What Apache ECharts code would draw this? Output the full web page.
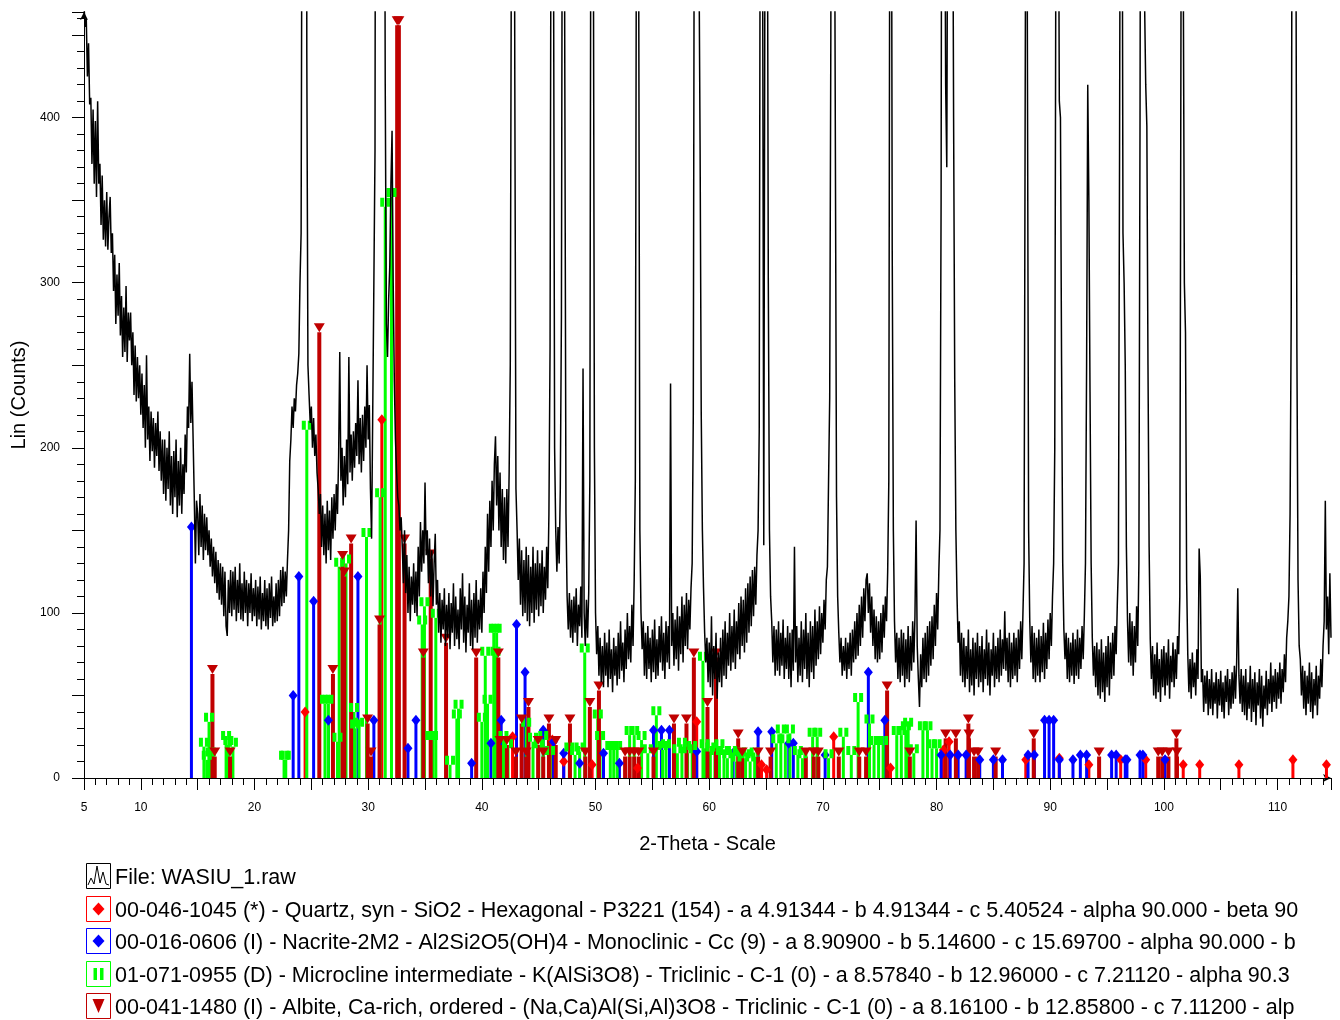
<!DOCTYPE html>
<html>
<head>
<meta charset="utf-8">
<title>WASIU_1</title>
<script src="https://cdn.jsdelivr.net/npm/echarts@6/dist/echarts.min.js"></script>
<style>
    html, body { margin: 0; padding: 0; background: #fff; }
    #chart { width: 1340px; height: 1020px; }
</style>
</head>
<body>
<div id="chart"></div>
<script>
(function () {
    // scan: counts every 0.1 deg from 5.0
    var scanStart = 5;
    var scanStep = 0.1;
    var scanCounts = [
        468, 455, 460, 425, 445, 408, 412, 372, 405, 360,
        398, 352, 410, 360, 372, 335, 365, 326, 350, 322,
        355, 320, 340, 352, 318, 330, 295, 317, 275, 305,
        280, 312, 268, 292, 255, 285, 258, 298, 252, 282,
        265, 282, 250, 270, 232, 262, 228, 255, 230, 250,
        220, 245, 212, 238, 200, 256, 205, 225, 192, 222,
        198, 218, 188, 215, 195, 222, 186, 210, 180, 205,
        172, 205, 168, 200, 175, 210, 165, 195, 160, 198,
        170, 205, 158, 192, 165, 200, 160, 190, 172, 208,
        185, 225, 212, 257, 215, 240, 205, 170, 130, 168,
        160, 135, 172, 140, 165, 132, 160, 138, 158, 135,
        150, 128, 145, 122, 140, 118, 137, 112, 132, 108,
        130, 105, 128, 98, 125, 92, 86, 120, 100, 126,
        98, 125, 102, 128, 95, 120, 100, 130, 96, 118,
        95, 125, 100, 120, 92, 118, 100, 124, 95, 115,
        98, 120, 92, 116, 96, 122, 90, 112, 95, 120,
        92, 115, 90, 118, 97, 122, 92, 110, 94, 118,
        95, 120, 98, 126, 104, 128, 106, 125, 110, 132,
        150, 192, 205, 225, 212, 230, 222, 238, 245, 257,
        300, 330, 620, 2500, 3000, 1800, 440, 250, 232, 215,
        225, 200, 218, 195, 208, 185, 175, 160, 172, 140,
        165, 135, 160, 130, 168, 138, 162, 132, 170, 145,
        172, 150, 178, 160, 195, 258, 180, 200, 165, 195,
        170, 205, 178, 255, 185, 208, 180, 210, 188, 215,
        195, 241, 190, 218, 185, 220, 192, 225, 200, 250,
        205, 226, 175, 145, 222, 300, 380, 900, 3000, 8000,
        10000, 8000, 4000, 1500, 700, 420, 275, 255, 290, 310,
        360, 392, 300, 240, 205, 185, 170, 165, 150, 158,
        140, 118, 150, 112, 135, 100, 128, 95, 122, 105,
        130, 100, 125, 98, 140, 110, 155, 125, 150, 130,
        179, 135, 150, 118, 145, 110, 138, 104, 130, 148,
        105, 120, 88, 112, 82, 108, 90, 115, 80, 105,
        85, 112, 78, 106, 88, 118, 80, 110, 84, 102,
        78, 115, 90, 124, 82, 110, 76, 105, 88, 118,
        80, 108, 78, 112, 85, 120, 82, 108, 90, 115,
        88, 125, 100, 140, 112, 160, 125, 168, 140, 180,
        150, 190, 207, 165, 195, 150, 185, 140, 175, 132,
        170, 130, 175, 140, 185, 250, 520, 900, 750, 420,
        175, 150, 120, 145, 105, 138, 98, 132, 100, 140,
        95, 135, 92, 128, 100, 140, 94, 130, 102, 138,
        98, 130, 104, 138, 100, 128, 108, 140, 115, 160,
        260, 600, 800, 520, 200, 150, 125, 152, 130, 175,
        280, 650, 700, 420, 160, 110, 90, 112, 85, 108,
        82, 110, 88, 115, 80, 105, 92, 116, 85, 248,
        100, 80, 108, 85, 112, 180, 600, 900, 550, 200,
        100, 75, 92, 62, 85, 58, 80, 55, 88, 62,
        82, 55, 90, 60, 78, 52, 85, 62, 80, 56,
        88, 60, 95, 65, 82, 58, 90, 66, 100, 72,
        92, 70, 105, 80, 120, 180, 550, 750, 480, 150,
        100, 78, 95, 62, 88, 60, 92, 66, 85, 58,
        90, 64, 96, 60, 84, 62, 92, 70, 98, 65,
        88, 60, 95, 70, 92, 66, 239, 80, 100, 68,
        96, 72, 104, 65, 98, 75, 110, 70, 105, 80,
        112, 78, 108, 90, 115, 130, 220, 600, 1500, 1200,
        700, 500, 380, 220, 150, 115, 88, 70, 85, 58,
        82, 55, 98, 50, 80, 60, 88, 48, 76, 58,
        85, 55, 90, 62, 95, 60, 88, 68, 100, 65,
        92, 70, 102, 66, 95, 75, 106, 72, 110, 80,
        108, 76, 115, 82, 118, 88, 122, 92, 126, 98,
        128, 105, 135, 150, 210, 600, 900, 500, 141, 500,
        900, 600, 300, 150, 110, 95, 70, 92, 62, 90,
        65, 95, 62, 88, 68, 96, 60, 85, 66, 92,
        60, 88, 55, 90, 65, 140, 70, 92, 58, 85,
        62, 95, 58, 90, 66, 100, 60, 88, 55, 95,
        64, 92, 60, 102, 68, 95, 72, 104, 75, 100,
        82, 108, 90, 120, 128, 180, 230, 450, 900, 800,
        600, 380, 170, 110, 88, 70, 85, 62, 80, 65,
        85, 60, 82, 66, 88, 62, 90, 70, 95, 72,
        100, 74, 105, 80, 110, 85, 115, 95, 120, 124,
        100, 118, 88, 110, 80, 102, 72, 98, 70, 95,
        72, 100, 76, 105, 85, 110, 95, 125, 180, 600,
        700, 320, 150, 95, 70, 88, 60, 85, 58, 90,
        62, 88, 55, 84, 60, 92, 58, 86, 65, 95,
        70, 98, 156, 80, 60, 43, 75, 55, 85, 60,
        88, 58, 92, 62, 95, 68, 98, 72, 105, 80,
        112, 90, 125, 150, 350, 800, 900, 600, 420, 370,
        600, 900, 900, 800, 600, 400, 240, 150, 110, 82,
        95, 62, 88, 58, 85, 55, 80, 60, 90, 52,
        78, 56, 85, 50, 82, 60, 88, 55, 80, 58,
        86, 52, 78, 60, 90, 56, 82, 50, 78, 62,
        88, 55, 80, 60, 85, 58, 90, 62, 84, 66,
        101, 65, 85, 58, 88, 55, 82, 60, 88, 62,
        85, 58, 90, 66, 95, 72, 100, 130, 420, 700,
        420, 150, 95, 70, 92, 60, 88, 58, 85, 62,
        90, 58, 86, 64, 94, 60, 88, 66, 96, 72,
        100, 80, 110, 130, 200, 520, 800, 600, 410, 400,
        250, 130, 90, 72, 88, 60, 85, 58, 82, 62,
        88, 57, 84, 62, 90, 60, 85, 66, 92, 72,
        98, 130, 250, 420, 350, 234, 130, 85, 62, 80,
        55, 82, 50, 78, 48, 84, 52, 76, 46, 80,
        55, 86, 50, 82, 60, 88, 62, 92, 75, 105,
        130, 380, 700, 650, 330, 300, 250, 140, 95, 70,
        100, 68, 95, 62, 92, 70, 104, 80, 130, 400,
        800, 900, 600, 470, 420, 395, 250, 140, 84, 60,
        80, 50, 75, 48, 82, 52, 72, 46, 78, 55,
        80, 50, 76, 56, 84, 48, 74, 58, 82, 55,
        78, 60, 86, 75, 110, 450, 800, 500, 300, 270,
        120, 75, 52, 72, 48, 76, 55, 70, 50, 78,
        60, 139, 122, 58, 66, 40, 62, 45, 65, 38,
        60, 42, 66, 38, 58, 45, 64, 36, 60, 44,
        65, 40, 58, 36, 62, 46, 66, 38, 60, 42,
        64, 45, 68, 48, 70, 115, 62, 45, 66, 40,
        62, 38, 66, 35, 58, 42, 68, 34, 60, 40,
        64, 32, 58, 44, 66, 36, 62, 31, 56, 42,
        65, 38, 60, 45, 70, 40, 62, 46, 66, 42,
        64, 48, 70, 45, 66, 52, 75, 58, 85, 95,
        110, 160, 280, 650, 900, 700, 560, 260, 120, 80,
        72, 50, 68, 42, 65, 38, 62, 45, 70, 40,
        64, 36, 60, 44, 68, 38, 62, 48, 72, 55,
        80, 95, 168, 90, 110, 75, 124, 85
    ];

    // reference patterns: [2-theta, counts]
    var quartzSticks = [
        [24.45, 40], [31.2, 217], [42.7, 25], [46.2, 23], [47.2, 10], [49.7, 8], [53.7, 6],
        [58.9, 34], [64.6, 8], [65.05, 5], [70.95, 25], [75.95, 6], [80.6, 17], [81.1, 22],
        [87.85, 11], [90.8, 12], [93.4, 8], [96.2, 11], [98.4, 11], [101.7, 8], [103.15, 8],
        [106.6, 8], [111.35, 11], [114.3, 8]
    ];
    var nacriteSticks = [
        [14.45, 152], [23.4, 50], [23.9, 122], [25.2, 107], [26.5, 35], [29.1, 122], [30.5, 35],
        [33.5, 18], [34.2, 35], [39.1, 9], [40.8, 21], [41.7, 35], [43.05, 93], [43.8, 64],
        [45.4, 29], [46.3, 22], [47.2, 15], [48.6, 9], [50.7, 15], [52.1, 9], [55.1, 29],
        [55.8, 29], [56.5, 29], [58.9, 16], [62.1, 15], [64.3, 28], [65.5, 28], [67.0, 21],
        [67.4, 21], [70.2, 14], [74.0, 64], [75.45, 35], [80.4, 14], [81.2, 14], [81.9, 14],
        [82.6, 14], [83.8, 11], [85.0, 11], [85.8, 11], [88.05, 14], [88.6, 14], [89.5, 35],
        [89.9, 35], [90.3, 35], [90.8, 11], [92.0, 11], [92.65, 14], [93.2, 14], [95.4, 14],
        [95.8, 14], [96.6, 11], [96.75, 11], [97.9, 14], [98.15, 14], [100.1, 11]
    ];
    var microclineSticks = [
        [15.55, 19], [15.8, 11], [16.0, 34], [16.15, 13], [17.5, 23], [17.7, 20], [18.1, 19],
        [22.6, 11], [22.75, 11], [24.6, 211], [26.2, 45], [26.5, 45], [27.3, 22], [27.45, 128],
        [28.05, 130], [28.75, 40], [28.85, 30], [29.2, 31], [29.85, 146], [31.05, 170],
        [31.5, 346], [32.05, 352], [34.75, 93], [34.95, 104], [35.5, 23], [35.7, 23],
        [35.95, 97], [37.2, 8], [37.8, 36], [37.95, 42], [40.0, 34], [40.3, 74], [40.5, 45],
        [41.05, 88], [41.2, 74], [41.3, 88], [41.9, 23], [42.3, 18], [43.9, 31], [44.5, 22],
        [45.0, 18], [45.4, 23], [46.0, 14], [47.7, 16], [48.2, 14], [48.6, 16], [49.05, 76],
        [50.2, 36], [50.4, 23], [51.3, 17], [51.6, 17], [51.9, 17], [53.0, 26], [53.4, 26],
        [54.05, 23], [54.6, 15], [55.35, 38], [55.9, 17], [56.2, 18], [57.2, 15], [57.6, 19],
        [58.1, 15], [58.5, 17], [59.45, 71], [59.6, 18], [60.1, 16], [60.5, 14], [60.9, 18],
        [61.3, 14], [61.6, 12], [62.0, 14], [62.4, 10], [62.8, 13], [63.2, 12], [63.6, 10],
        [64.0, 13], [65.9, 21], [66.3, 27], [66.7, 21], [67.1, 27], [67.8, 14], [68.2, 12],
        [69.1, 25], [69.5, 25], [70.5, 12], [71.8, 25], [72.5, 14], [73.1, 46], [74.1, 33],
        [74.5, 20], [74.9, 20], [75.3, 20], [76.5, 26], [76.9, 26], [77.3, 29], [77.5, 31],
        [78.0, 15], [78.8, 29], [79.2, 29], [79.6, 18], [80.0, 18]
    ];
    var albiteSticks = [
        [16.3, 63], [16.5, 13], [17.85, 13], [25.7, 270], [26.9, 63], [27.75, 132], [27.9, 122],
        [28.5, 142], [29.95, 33], [30.25, 13], [31.0, 93], [32.55, 456], [32.7, 456],
        [33.2, 142], [34.85, 73], [35.5, 133], [36.85, 82], [39.5, 73], [41.45, 73], [41.6, 20],
        [42.2, 20], [43.0, 13], [43.5, 33], [43.9, 13], [44.1, 43], [44.95, 20], [45.4, 13],
        [45.9, 33], [46.5, 20], [47.75, 33], [49.1, 13], [49.5, 43], [50.3, 53], [52.6, 13],
        [53.0, 13], [53.4, 13], [53.8, 13], [55.1, 13], [56.9, 33], [58.0, 33], [58.65, 73],
        [59.85, 43], [60.6, 73], [62.55, 24], [62.9, 13], [64.3, 13], [65.4, 13], [68.5, 13],
        [69.2, 13], [69.6, 13], [71.4, 13], [73.2, 13], [73.8, 13], [75.65, 53], [77.65, 13],
        [80.8, 24], [81.7, 24], [82.8, 33], [82.85, 24], [83.3, 13], [83.65, 13], [85.2, 13],
        [88.55, 24], [94.3, 13], [99.5, 13], [99.85, 13], [100.4, 13], [101.1, 24], [101.15, 13]
    ];

    var xTickLabels = [5, 10, 20, 30, 40, 50, 60, 70, 80, 90, 100, 110];
    var yTickLabels = [0, 100, 200, 300, 400];

    var legendTexts = [
        'File: WASIU_1.raw',
        '00-046-1045 (*) - Quartz, syn - SiO2 - Hexagonal - P3221 (154) - a 4.91344 - b 4.91344 - c 5.40524 - alpha 90.000 - beta 90',
        '00-016-0606 (I) - Nacrite-2M2 - Al2Si2O5(OH)4 - Monoclinic - Cc (9) - a 8.90900 - b 5.14600 - c 15.69700 - alpha 90.000 - b',
        '01-071-0955 (D) - Microcline intermediate - K(AlSi3O8) - Triclinic - C-1 (0) - a 8.57840 - b 12.96000 - c 7.21120 - alpha 90.3',
        '00-041-1480 (I) - Albite, Ca-rich, ordered - (Na,Ca)Al(Si,Al)3O8 - Triclinic - C-1 (0) - a 8.16100 - b 12.85800 - c 7.11200 - alp'
    ];

    var RED = '#ff0000', BLUE = '#0000ff', GREEN = '#00ff00', DARKRED = '#c00000';
    var FONT = '"Liberation Sans", Arial, sans-serif';

    var scanData = scanCounts.map(function (c, i) {
        return [+(scanStart + i * scanStep).toFixed(1), c];
    });

    var stickSeries = function (data, color, width) {
        return {
            type: 'custom',
            silent: true,
            data: data,
            renderItem: function (params, api) {
                var p0 = api.coord([api.value(0), 0]);
                var p1 = api.coord([api.value(0), api.value(1)]);
                return {
                    type: 'rect',
                    shape: {x: p0[0] - width / 2, y: p1[1], width: width, height: p0[1] - p1[1]},
                    style: {fill: color}
                };
            }
        };
    };

    var markerSeries = function (data, color, symbol, size, offset) {
        return {
            type: 'scatter',
            silent: true,
            data: data,
            symbol: symbol,
            symbolSize: size,
            symbolOffset: offset,
            itemStyle: {color: color, opacity: 1}
        };
    };

    var diamondPath = 'path://M5,0L10,6L5,12L0,6Z';
    var barsPath = 'path://M0,0H4V9H0Z M6,0H10V9H6Z';
    var trianglePath = 'path://M0,0L10,0L5,9Z';

    // legend drawn as graphic rows
    var legendY0 = 863, legendStep = 32.5;
    var boxColors = ['#000000', RED, BLUE, GREEN, DARKRED];
    var graphics = [];
    legendTexts.forEach(function (t, i) {
        var y = Math.round(legendY0 + i * legendStep);
        graphics.push({
            type: 'rect',
            shape: {x: 86.5, y: y + 0.5, width: 24, height: 25},
            style: {fill: '#fff', stroke: boxColors[i], lineWidth: 1}
        });
        var cx = 98.5, cy = y + 13;
        if (i === 0) {
            graphics.push({
                type: 'polyline',
                shape: {points: [[88, cy + 9], [91, cy + 2], [94, cy + 8], [97, cy - 10], [100, cy + 7], [103, cy - 4], [106, cy + 8], [109, cy + 9]]},
                style: {stroke: '#000', lineWidth: 1, fill: null}
            });
        } else if (i === 1 || i === 2) {
            graphics.push({
                type: 'polygon',
                shape: {points: [[cx, cy - 6.5], [cx + 6, cy], [cx, cy + 6.5], [cx - 6, cy]]},
                style: {fill: boxColors[i]}
            });
        } else if (i === 3) {
            graphics.push({type: 'rect', shape: {x: cx - 5, y: cy - 6, width: 3.5, height: 12}, style: {fill: GREEN}});
            graphics.push({type: 'rect', shape: {x: cx + 1.5, y: cy - 6, width: 3.5, height: 12}, style: {fill: GREEN}});
        } else {
            graphics.push({
                type: 'polygon',
                shape: {points: [[cx - 6, cy - 7], [cx + 6, cy - 7], [cx, cy + 7]]},
                style: {fill: DARKRED}
            });
        }
        graphics.push({
            type: 'text', left: 115, top: y + 4,
            style: {text: t, font: '21.5px ' + FONT, fill: '#000'}
        });
    });

    var chart = echarts.init(document.getElementById('chart'), null, {renderer: 'canvas'});
    chart.setOption({
        animation: false,
        backgroundColor: '#fff',
        grid: {left: 84, right: 9, top: 12, bottom: 242},
        xAxis: {
            type: 'value',
            min: 5,
            max: 114.7,
            interval: 5,
            name: '2-Theta - Scale',
            nameLocation: 'middle',
            nameGap: 56,
            nameTextStyle: {fontFamily: FONT, fontSize: 20, color: '#000'},
            axisLine: {show: true, lineStyle: {color: '#000', width: 1}, symbol: ['none', 'arrow'], symbolSize: [6, 8]},
            axisTick: {show: true, length: 12, lineStyle: {color: '#000'}},
            minorTick: {show: true, splitNumber: 5, length: 7, lineStyle: {color: '#000'}},
            splitLine: {show: false},
            axisLabel: {
                margin: 24,
                fontFamily: FONT, fontSize: 12, color: '#000',
                showMaxLabel: false,
                formatter: function (v) {
                    return xTickLabels.indexOf(v) >= 0 ? String(v) : '';
                }
            }
        },
        yAxis: {
            type: 'value',
            min: 0,
            max: 464,
            interval: 50,
            name: 'Lin (Counts)',
            nameLocation: 'middle',
            nameGap: 52,
            nameTextStyle: {fontFamily: FONT, fontSize: 20, color: '#000'},
            axisLine: {show: true, lineStyle: {color: '#000', width: 1}, symbol: ['none', 'arrow'], symbolSize: [6, 8]},
            axisTick: {show: true, length: 12, lineStyle: {color: '#000'}},
            minorTick: {show: true, splitNumber: 5, length: 7, lineStyle: {color: '#000'}},
            splitLine: {show: false},
            axisLabel: {
                margin: 24,
                fontFamily: FONT, fontSize: 12, color: '#000',
                showMaxLabel: false,
                formatter: function (v) {
                    return yTickLabels.indexOf(v) >= 0 ? String(v) : '';
                }
            }
        },
        graphic: graphics,
        series: [
            {
                type: 'line',
                data: scanData,
                showSymbol: false,
                symbol: 'none',
                sampling: null,
                clip: true,
                silent: true,
                lineStyle: {color: '#000', width: 1.5}
            },
            stickSeries(quartzSticks, RED, 3),
            markerSeries(quartzSticks, RED, diamondPath, [9, 11], [0, 0]),
            stickSeries(nacriteSticks, BLUE, 3),
            markerSeries(nacriteSticks, BLUE, diamondPath, [9, 11], [0, 0]),
            stickSeries(microclineSticks, GREEN, 3),
            markerSeries(microclineSticks, GREEN, barsPath, [10, 9], [0, -4.5]),
            stickSeries(albiteSticks, DARKRED, 4),
            markerSeries(albiteSticks, DARKRED, trianglePath, [11, 9], [0, -4.5])
        ]
    });
})();
</script>
</body>
</html>
